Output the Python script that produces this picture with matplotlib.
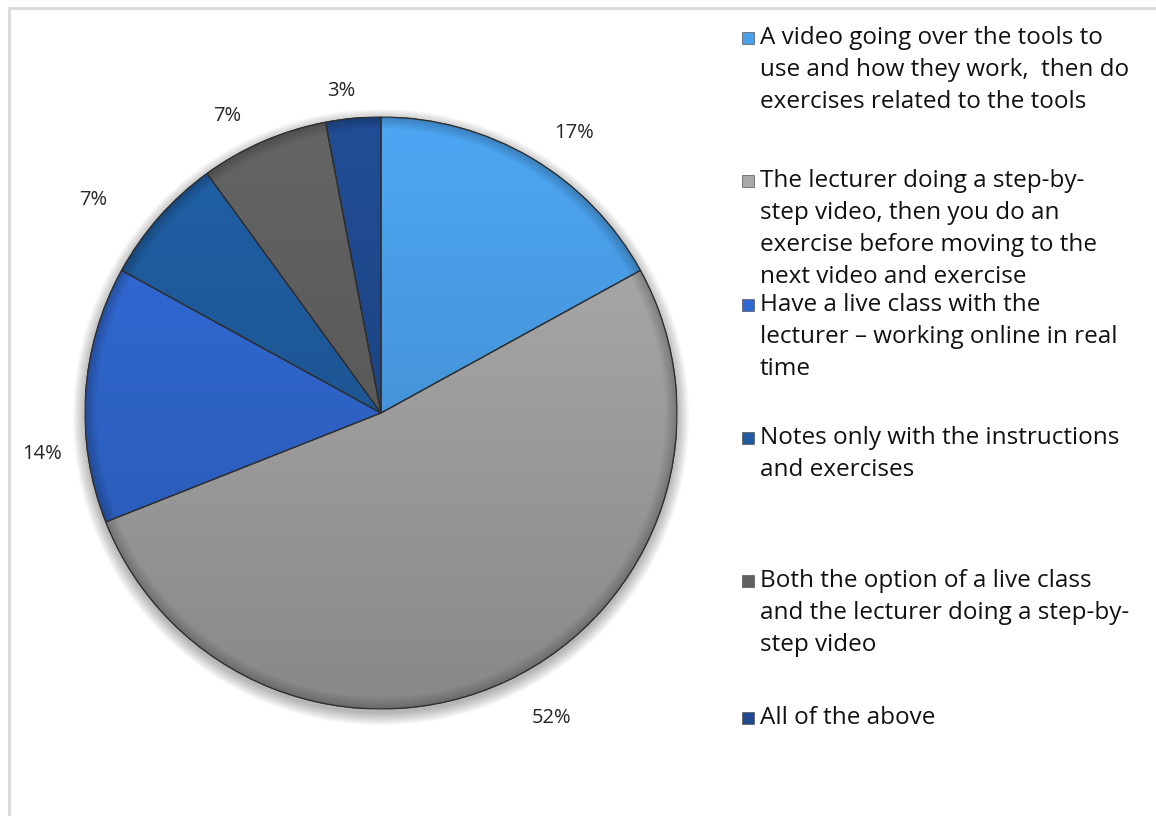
import numpy as np
import matplotlib
matplotlib.use("Agg")
import matplotlib.pyplot as plt
from matplotlib.colors import to_rgb
from matplotlib.patches import Rectangle, Circle, Wedge

plt.rcParams['font.family'] = ['Open Sans', 'DejaVu Sans']

# survey answers, in the order the wedges run clockwise from 12 o'clock
options = [
    "A video going over the tools to\nuse and how they work,  then do\nexercises related to the tools",
    "The lecturer doing a step-by-\nstep video, then you do an\nexercise before moving to the\nnext video and exercise",
    "Have a live class with the\nlecturer \u2013 working online in real\ntime",
    "Notes only with the instructions\nand exercises",
    "Both the option of a live class\nand the lecturer doing a step-by-\nstep video",
    "All of the above",
]
shares = [17, 52, 14, 7, 7, 3]
colors = ["#4a9fe9", "#a8a8a8", "#3169d3", "#1f5c9f", "#606060", "#1f4a8f"]

W, H = 1156, 816
fig = plt.figure(figsize=(W / 100, H / 100), dpi=100)

# thin grey chart-area border (runs off the right and bottom edges)
fig.patches.append(Rectangle((9 / W, -0.1), 1.2, (H - 8) / H + 0.1,
                             transform=fig.transFigure, fill=False,
                             edgecolor="#d9d9d9", linewidth=2))

# pie axes: centre (381, 413) px, radius 296 px
cx, cy, r = 381, 413, 296
ax = fig.add_axes([(cx - r) / W, (H - cy - r) / H, 2 * r / W, 2 * r / H])

# soft drop shadow
for k in range(10):
    ax.add_patch(Circle((0, -0.014), 1.0 + 0.0045 * k, color="k",
                        alpha=0.03, zorder=0, linewidth=0, clip_on=False))

wedges, _ = ax.pie(shares, colors=colors, startangle=90, counterclock=False,
                   radius=1, wedgeprops=dict(edgecolor="#3a3a3a", linewidth=0.8))

# shade each wedge: lighter at the top, darker toward the bottom and rim
n = 400
yy, xx = np.mgrid[1:-1:n * 1j, -1:1:n * 1j]
rr = np.hypot(xx, yy)
shade = 1.05 - 0.24 * (1 - yy) / 2
shade = shade * (1 - 0.22 * np.clip((rr - 0.96) / 0.04, 0, 1))
for w, c in zip(wedges, colors):
    img = np.ones((n, n, 4))
    img[..., :3] = np.clip(np.array(to_rgb(c)) * shade[..., None], 0, 1)
    im = ax.imshow(img, extent=(-1, 1, -1, 1), zorder=w.get_zorder() + 0.1,
                   interpolation="bilinear")
    im.set_clip_path(w)

# outline again on top of the shading
for w in wedges:
    ax.add_patch(Wedge(w.center, w.r, w.theta1, w.theta2, fill=False,
                       edgecolor="#2e2e2e", linewidth=0.9, zorder=5))

ax.set_xlim(-1, 1)
ax.set_ylim(-1, 1)
ax.set_aspect("auto")
ax.axis("off")

# percentage labels outside each wedge (angle nudge, distance factor)
nudges = [(-4, 1.15), (4, 1.18), (10.5, 1.155), (5, 1.21), (4, 1.13), (1.6, 1.095)]
for w, v, (da, d) in zip(wedges, shares, nudges):
    a = np.deg2rad((w.theta1 + w.theta2) / 2 + da)
    ax.text(d * np.cos(a), d * np.sin(a), f"{v}%", ha="center", va="center",
            fontsize=14.5, color="#262626")

# legend, hand-laid like the spreadsheet version
entry_top = [37, 180, 304, 437, 580, 717]
line_h = 32
for label, c, y0 in zip(options, colors, entry_top):
    fig.patches.append(Rectangle((742 / W, 1 - (y0 + 7) / H), 12 / W, 12 / H,
                                 transform=fig.transFigure, facecolor=c,
                                 edgecolor="#555555", linewidth=0.5))
    for i, line in enumerate(label.split("\n")):
        fig.text(760 / W, 1 - (y0 + i * line_h + 7) / H, line, ha="left",
                 va="baseline", fontsize=17.5, color="#111111")

fig.savefig("out.png", dpi=100)
